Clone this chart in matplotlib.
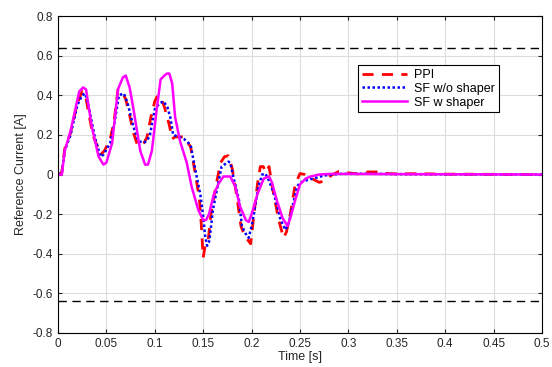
import numpy as np
import matplotlib.pyplot as plt

plt.rcParams['font.family'] = ['Liberation Sans', 'DejaVu Sans']

# PPI
t_ppi = [0, 0.004, 0.007, 0.013, 0.020, 0.025, 0.028, 0.031, 0.036, 0.040, 0.044, 0.048,
         0.054, 0.058, 0.062, 0.066, 0.070, 0.074, 0.078, 0.082, 0.088, 0.092, 0.096, 0.100,
         0.103, 0.107, 0.110, 0.115, 0.118, 0.121, 0.126, 0.130, 0.137, 0.142, 0.146, 0.148,
         0.150, 0.152, 0.155, 0.158, 0.163, 0.168, 0.172, 0.176, 0.180, 0.185, 0.189, 0.192,
         0.196, 0.199, 0.202, 0.206, 0.209, 0.212, 0.215, 0.218, 0.222, 0.228, 0.233, 0.236,
         0.240, 0.245, 0.250, 0.255, 0.262, 0.270, 0.276, 0.282, 0.290, 0.300, 0.310, 0.320,
         0.333, 0.340, 0.350, 0.370, 0.400, 0.500]
i_ppi = [0, 0.01, 0.13, 0.21, 0.36, 0.42, 0.41, 0.33, 0.20, 0.15, 0.10, 0.12,
         0.18, 0.27, 0.43, 0.42, 0.38, 0.30, 0.21, 0.15, 0.15, 0.19, 0.29, 0.37,
         0.40, 0.38, 0.34, 0.25, 0.18, 0.19, 0.19, 0.19, 0.14, 0.0, -0.12, -0.25,
         -0.42, -0.36, -0.34, -0.20, -0.06, 0.06, 0.09, 0.095, 0.03, -0.12, -0.26, -0.30,
         -0.33, -0.35, -0.22, -0.05, 0.04, 0.04, 0.01, 0.04, -0.08, -0.23, -0.32, -0.29,
         -0.20, -0.05, 0.005, 0.0, -0.02, -0.04, -0.03, -0.005, 0.015, 0.008, 0.003, 0.013,
         0.013, 0.005, 0.003, 0.004, 0.002, 0.0]

# SF w/o shaper
t_sf = [0, 0.004, 0.007, 0.013, 0.020, 0.025, 0.028, 0.031, 0.038, 0.044, 0.047, 0.054,
        0.058, 0.063, 0.068, 0.072, 0.078, 0.083, 0.088, 0.092, 0.095, 0.100, 0.105, 0.109,
        0.113, 0.116, 0.119, 0.125, 0.130, 0.137, 0.142, 0.147, 0.150, 0.152, 0.154, 0.156,
        0.157, 0.160, 0.164, 0.169, 0.176, 0.178, 0.181, 0.187, 0.190, 0.194, 0.197, 0.200,
        0.202, 0.207, 0.211, 0.214, 0.217, 0.223, 0.230, 0.235, 0.238, 0.240, 0.247, 0.2505,
        0.256, 0.264, 0.275, 0.290, 0.320, 0.350, 0.500]
i_sf = [0, 0.01, 0.12, 0.20, 0.35, 0.40, 0.41, 0.36, 0.19, 0.09, 0.10, 0.16,
        0.25, 0.40, 0.41, 0.36, 0.24, 0.17, 0.16, 0.17, 0.20, 0.33, 0.36, 0.37,
        0.34, 0.29, 0.20, 0.19, 0.18, 0.15, 0.02, -0.10, -0.21, -0.31, -0.36, -0.34,
        -0.31, -0.18, -0.08, 0.04, 0.065, 0.06, -0.01, -0.13, -0.26, -0.30, -0.32, -0.26,
        -0.21, -0.06, 0.0, 0.005, -0.02, -0.095, -0.23, -0.28, -0.25, -0.21, -0.06, -0.04,
        -0.03, -0.02, -0.005, 0.003, 0.004, 0.002, 0.0]

# SF w shaper
t_sfs = [0, 0.004, 0.007, 0.013, 0.022, 0.026, 0.029, 0.035, 0.042, 0.047, 0.050, 0.056,
         0.062, 0.067, 0.070, 0.074, 0.078, 0.085, 0.090, 0.093, 0.097, 0.102, 0.106, 0.110,
         0.1125, 0.115, 0.118, 0.121, 0.126, 0.133, 0.138, 0.145, 0.150, 0.153, 0.156, 0.161,
         0.166, 0.171, 0.178, 0.183, 0.188, 0.194, 0.197, 0.200, 0.206, 0.2126, 0.218, 0.221,
         0.226, 0.232, 0.237, 0.240, 0.245, 0.250, 0.256, 0.261, 0.270, 0.280, 0.300, 0.350,
         0.500]
i_sfs = [0, 0.0, 0.12, 0.22, 0.42, 0.44, 0.43, 0.24, 0.09, 0.05, 0.06, 0.16,
         0.43, 0.49, 0.50, 0.44, 0.33, 0.12, 0.05, 0.05, 0.12, 0.33, 0.48, 0.50,
         0.51, 0.51, 0.46, 0.29, 0.17, 0.06, -0.06, -0.18, -0.23, -0.23, -0.20, -0.10,
         -0.045, -0.01, -0.01, -0.06, -0.16, -0.23, -0.24, -0.20, -0.10, -0.02, -0.01, -0.04,
         -0.13, -0.22, -0.26, -0.22, -0.13, -0.05, -0.02, -0.01, 0.0, 0.003, 0.003, 0.002,
         0.0]

limit = 0.64

fig = plt.figure(figsize=(5.52, 3.67), dpi=100)
ax = fig.add_axes([0.105, 0.093, 0.877, 0.863])

ax.plot(t_ppi, i_ppi, color='red', linestyle=(0, (4, 3)), linewidth=2, label='PPI')
ax.plot(t_sf, i_sf, color='blue', linestyle=(0, (1, 1)), linewidth=1.8, label='SF w/o shaper')
ax.plot(t_sfs, i_sfs, color='magenta', linewidth=1.8, label='SF w shaper')
ax.axhline(limit, color='black', linestyle=(0, (6, 4)), linewidth=1)
ax.axhline(-limit, color='black', linestyle=(0, (6, 4)), linewidth=1)

ax.set_xlim(0, 0.5)
ax.set_ylim(-0.8, 0.8)
ax.set_xticks(np.arange(0, 0.501, 0.05))
ax.set_xticklabels(['0', '0.05', '0.1', '0.15', '0.2', '0.25', '0.3', '0.35', '0.4', '0.45', '0.5'])
ax.set_yticks(np.arange(-0.8, 0.801, 0.2))
ax.set_yticklabels(['-0.8', '-0.6', '-0.4', '-0.2', '0', '0.2', '0.4', '0.6', '0.8'])
ax.grid(True, color='#dcdcdc', linewidth=0.8)
ax.tick_params(direction='in', length=3, labelsize=8.5, top=True, right=True, colors='#262626')
for s in ax.spines.values():
    s.set_linewidth(0.8)
ax.set_xlabel('Time [s]', fontsize=9, labelpad=1, color='#262626')
ax.set_ylabel('Reference Current [A]', fontsize=9, labelpad=4, color='#262626')

leg = ax.legend(loc='upper left', bbox_to_anchor=(0.62, 0.845), fontsize=9, fancybox=False,
                framealpha=1, edgecolor='black', handlelength=3.6, borderpad=0.3,
                labelspacing=0.15, handletextpad=0.6, borderaxespad=0)
leg.get_frame().set_linewidth(0.8)

fig.savefig('out.png', dpi=100)
